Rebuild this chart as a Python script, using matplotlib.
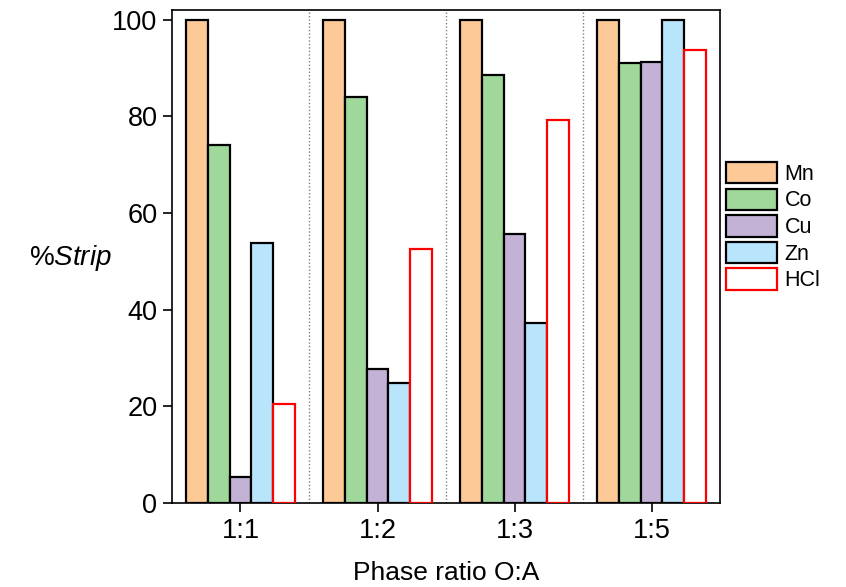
import numpy as np
import matplotlib.pyplot as plt

plt.rcParams['font.family'] = ['Liberation Sans', 'DejaVu Sans']
plt.rcParams['mathtext.fontset'] = 'custom'
plt.rcParams['mathtext.rm'] = 'Liberation Sans'
plt.rcParams['mathtext.it'] = 'Liberation Sans:italic'

# phase ratios and % strip per metal
ratios = ['1:1', '1:2', '1:3', '1:5']
series = ['Mn', 'Co', 'Cu', 'Zn', 'HCl']
mn = [100, 100, 100, 100]
co = [74.0, 84.0, 88.5, 91.0]
cu = [5.4, 27.7, 55.7, 91.3]
zn = [53.8, 24.9, 37.3, 100]
hcl = [20.5, 52.6, 79.3, 93.8]

fills = ['#FDC996', '#A0D89C', '#C3B1D6', '#B8E4FC', 'white']
edges = ['black', 'black', 'black', 'black', 'red']

fig = plt.figure(figsize=(8.46, 5.87), dpi=100)
ax = fig.add_axes([0.2033, 0.1431, 0.6478, 0.8399])

x = np.arange(len(ratios))
w = 0.16
for i, vals in enumerate([mn, co, cu, zn, hcl]):
    ax.bar(x + (i - 2) * w, vals, w, color=fills[i], edgecolor=edges[i],
           linewidth=1.6, label=series[i], zorder=3)

# dotted group separators
for b in [0.5, 1.5, 2.5]:
    ax.axvline(b, color='grey', linestyle=(0, (1, 1.5)), linewidth=1, zorder=1)

ax.set_xlim(-0.5, 3.5)
ax.set_ylim(0, 102)
ax.set_xticks(x)
ax.set_xticklabels(ratios)
ax.set_yticks([0, 20, 40, 60, 80, 100])
ax.tick_params(labelsize=19.5, length=6.5, width=1.2, direction='out', pad=4)
for s in ax.spines.values():
    s.set_linewidth(1.2)

ax.set_xlabel('Phase ratio O:A', fontsize=19, labelpad=12.5)
ax.set_ylabel(r'%$\it{Strip}$', fontsize=20, rotation=0, va='center')
ax.yaxis.set_label_coords(-0.186, 0.497)

ax.legend(loc='upper left', bbox_to_anchor=(1.0, 0.705), frameon=False,
          fontsize=15.5, handlelength=2.35, handleheight=1.15, labelspacing=0.17,
          handletextpad=0.35, borderaxespad=0.0, borderpad=0.3)

fig.savefig('out.png', dpi=100)
